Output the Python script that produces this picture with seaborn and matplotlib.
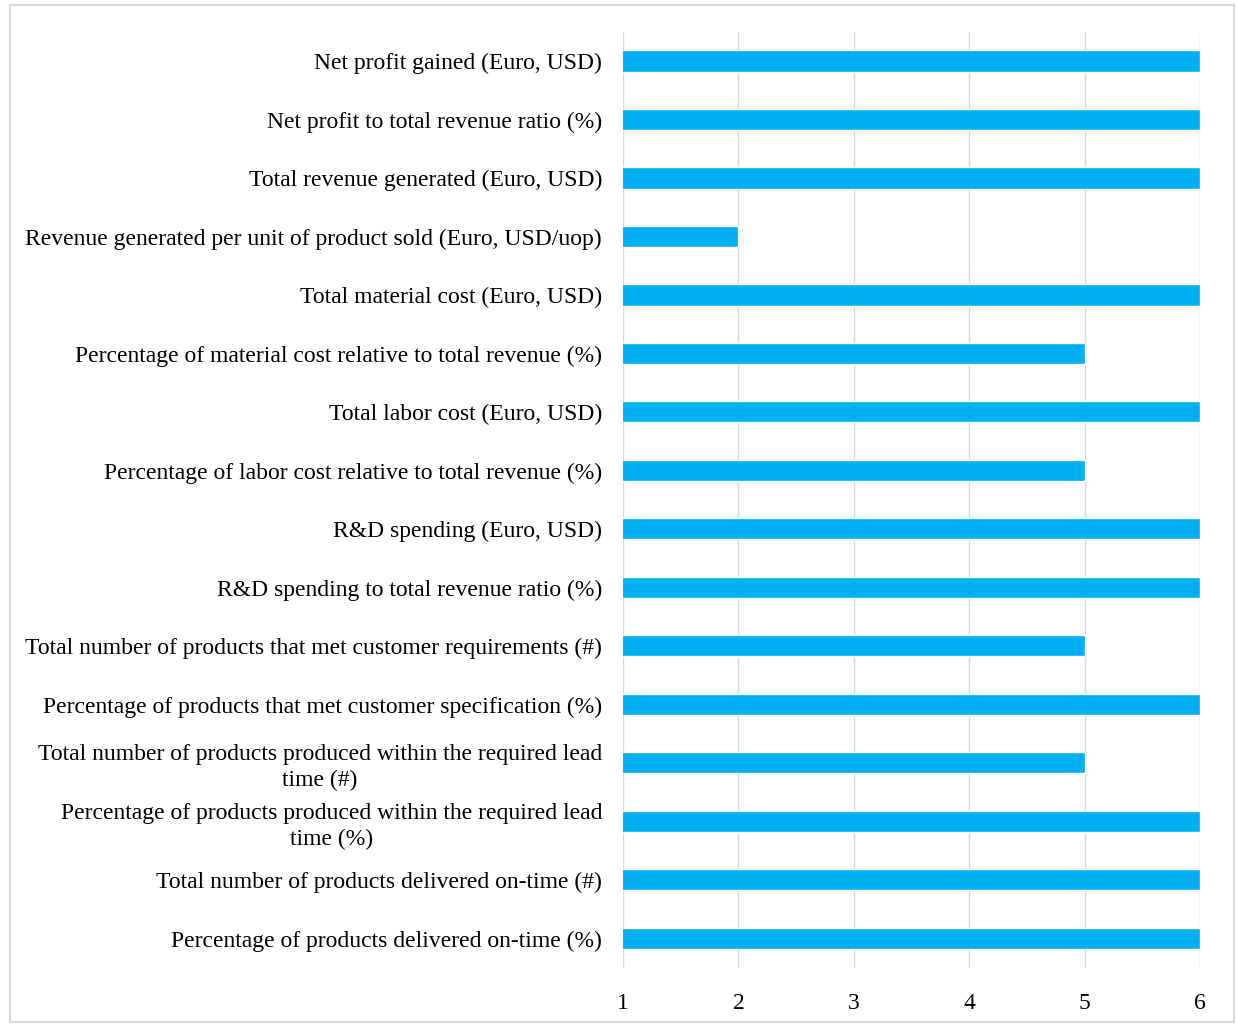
import matplotlib
matplotlib.use("Agg")
import matplotlib.pyplot as plt
import matplotlib.patches as patches
import seaborn as sns
import pandas as pd

# =========================
# Data
# =========================

indicators = [
    "Net profit gained (Euro, USD)",
    "Net profit to total revenue ratio (%)",
    "Total revenue generated (Euro, USD)",
    "Revenue generated per unit of product sold (Euro, USD/uop)",
    "Total material cost (Euro, USD)",
    "Percentage of material cost relative to total revenue (%)",
    "Total labor cost (Euro, USD)",
    "Percentage of labor cost relative to total revenue (%)",
    "R&D spending (Euro, USD)",
    "R&D spending to total revenue ratio (%)",
    "Total number of products that met customer requirements (#)",
    "Percentage of products that met customer specification (%)",
    "Total number of products produced within the required lead\ntime (#)",
    "Percentage of products produced within the required lead\ntime (%)",
    "Total number of products delivered on-time (#)",
    "Percentage of products delivered on-time (%)",
]

scores = [6, 6, 6, 2, 6, 5, 6, 5, 6, 6, 5, 6, 5, 6, 6, 6]

x_ticks = [1, 2, 3, 4, 5, 6]

df = pd.DataFrame({"indicator": indicators, "score": scores})


# =========================
# Plot
# =========================

sns.set_style("white")
plt.rcParams["font.family"] = ["Liberation Serif", "DejaVu Serif"]

fig = plt.figure(figsize=(12.36, 10.24), dpi=100)
ax = fig.add_axes([0.504, 0.055, 0.467, 0.914])

sns.barplot(
    data=df,
    x="score",
    y="indicator",
    orient="h",
    color="#00B0F0",
    width=0.36,
    saturation=1,
    ax=ax
)

ax.set_xlim(1, 6)
ax.set_ylim(15.5, -0.5)
ax.set_xticks(x_ticks)
ax.set_xlabel("")
ax.set_ylabel("")

ax.grid(axis="x", color="#d9d9d9", linewidth=1)
ax.set_axisbelow(True)
for side in ["top", "right", "bottom", "left"]:
    ax.spines[side].set_visible(False)

ax.tick_params(axis="both", length=0, labelsize=17, labelcolor="black")
ax.tick_params(axis="x", pad=18)
ax.tick_params(axis="y", pad=15)
for lbl in ax.get_yticklabels():
    lbl.set_multialignment("center")
    lbl.set_linespacing(1.3)

# figure frame
fig.patches.append(
    patches.Rectangle(
        (10 / 1236, 2 / 1024),
        1224 / 1236,
        1017 / 1024,
        transform=fig.transFigure,
        fill=False,
        edgecolor="#d9d9d9",
        linewidth=1.5
    )
)

fig.savefig("out.png", dpi=100)
